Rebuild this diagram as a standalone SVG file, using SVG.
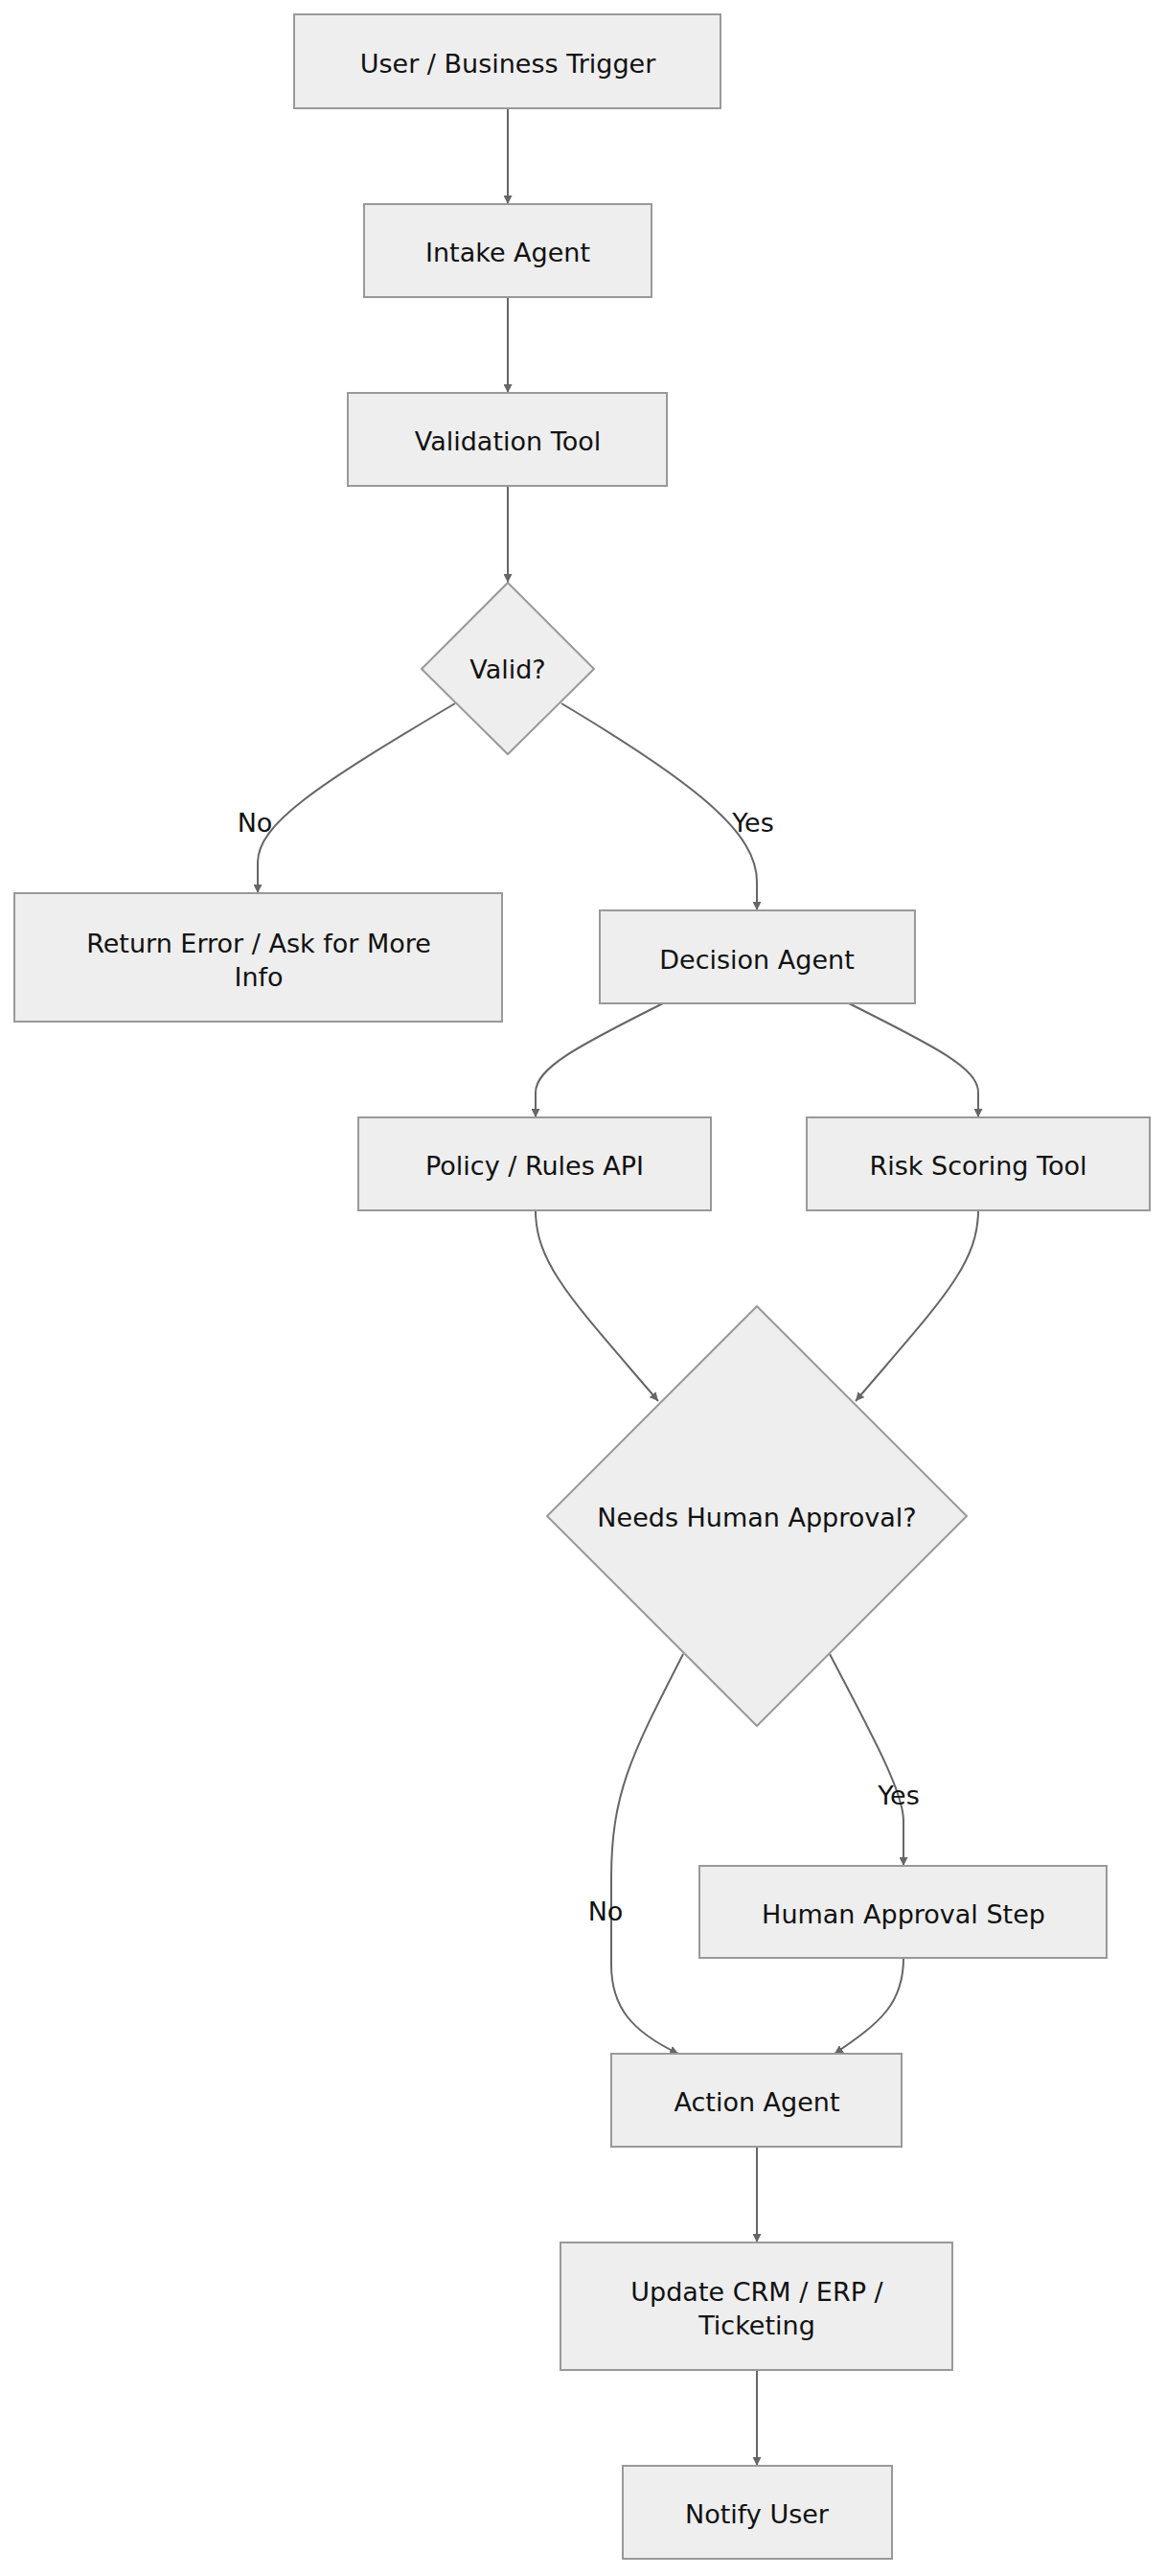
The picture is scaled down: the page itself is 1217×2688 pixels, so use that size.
<svg xmlns="http://www.w3.org/2000/svg" width="1217" height="2688" viewBox="0 0 1217 2688">
<style>
.n{fill:#eeeeee;stroke:#999999;stroke-width:2}
.t{font-family:"DejaVu Sans",Verdana,sans-serif;font-size:27px;fill:#111;text-anchor:middle;dominant-baseline:central}
.e{fill:none;stroke:#666666;stroke-width:2}
.l{font-family:"DejaVu Sans",Verdana,sans-serif;font-size:27px;fill:#111;text-anchor:middle;dominant-baseline:central}
</style>
<defs><marker id="a" viewBox="0 0 10 10" refX="10" refY="5" markerWidth="9" markerHeight="9" markerUnits="userSpaceOnUse" orient="auto"><path d="M0,0L10,5L0,10z" fill="#666666"/></marker></defs>
<rect width="1217" height="2688" fill="#ffffff"/>
<g id="edges">
<path class="e" marker-end="url(#a)" d="M530,113L530,213"/>
<path class="e" marker-end="url(#a)" d="M530,310L530,410"/>
<path class="e" marker-end="url(#a)" d="M530,507L530,608"/>
<path class="e" marker-end="url(#a)" d="M475,734C330,820 269,860 269,900L269,932"/>
<path class="e" marker-end="url(#a)" d="M586,734C730,820 790,870 790,920L790,950"/>
<path class="e" marker-end="url(#a)" d="M692,1047C600,1093 559,1115 559,1140L559,1166"/>
<path class="e" marker-end="url(#a)" d="M886,1047C978,1093 1021,1115 1021,1140L1021,1166"/>
<path class="e" marker-end="url(#a)" d="M559,1263C559,1320 600,1360 687,1462"/>
<path class="e" marker-end="url(#a)" d="M1021,1263C1021,1320 980,1360 893,1462"/>
<path class="e" marker-end="url(#a)" d="M713,1726C660,1830 638,1870 638,1960L638,2050C638,2095 660,2120 708,2143"/>
<path class="e" marker-end="url(#a)" d="M866,1726C910,1810 943,1870 943,1900L943,1947"/>
<path class="e" marker-end="url(#a)" d="M943,2043C943,2090 920,2110 871,2143"/>
<path class="e" marker-end="url(#a)" d="M790,2240L790,2340"/>
<path class="e" marker-end="url(#a)" d="M790,2473L790,2573"/>
<text class="l" x="266" y="858">No</text>
<text class="l" x="786" y="858">Yes</text>
<text class="l" x="632" y="1994">No</text>
<text class="l" x="938" y="1873">Yes</text>
</g>
<g id="user"><rect class="n" x="307" y="15" width="445" height="98"/><text class="t" x="530" y="66">User / Business Trigger</text></g>
<g id="intake"><rect class="n" x="380" y="213" width="300" height="97"/><text class="t" x="530" y="263">Intake Agent</text></g>
<g id="validation"><rect class="n" x="363" y="410" width="333" height="97"/><text class="t" x="530" y="460">Validation Tool</text></g>
<g id="valid"><polygon class="n" points="530,608 620,698 530,787 440,698"/><text class="t" x="530" y="698">Valid?</text></g>
<g id="returnerror"><rect class="n" x="15" y="932" width="509" height="134"/><text class="t" x="270" y="984">Return Error / Ask for More</text><text class="t" x="270" y="1019">Info</text></g>
<g id="decision"><rect class="n" x="626" y="950" width="329" height="97"/><text class="t" x="790" y="1001">Decision Agent</text></g>
<g id="policy"><rect class="n" x="374" y="1166" width="368" height="97"/><text class="t" x="558" y="1216">Policy / Rules API</text></g>
<g id="risk"><rect class="n" x="842" y="1166" width="358" height="97"/><text class="t" x="1021" y="1216">Risk Scoring Tool</text></g>
<g id="needs"><polygon class="n" points="790,1363 1009,1582 790,1801 571,1582"/><text class="t" x="790" y="1583">Needs Human Approval?</text></g>
<g id="human"><rect class="n" x="730" y="1947" width="425" height="96"/><text class="t" x="943" y="1997">Human Approval Step</text></g>
<g id="action"><rect class="n" x="638" y="2143" width="303" height="97"/><text class="t" x="790" y="2193">Action Agent</text></g>
<g id="update"><rect class="n" x="585" y="2340" width="409" height="133"/><text class="t" x="790" y="2391">Update CRM / ERP /</text><text class="t" x="790" y="2426">Ticketing</text></g>
<g id="notify"><rect class="n" x="650" y="2573" width="281" height="97"/><text class="t" x="790" y="2623">Notify User</text></g>
</svg>
